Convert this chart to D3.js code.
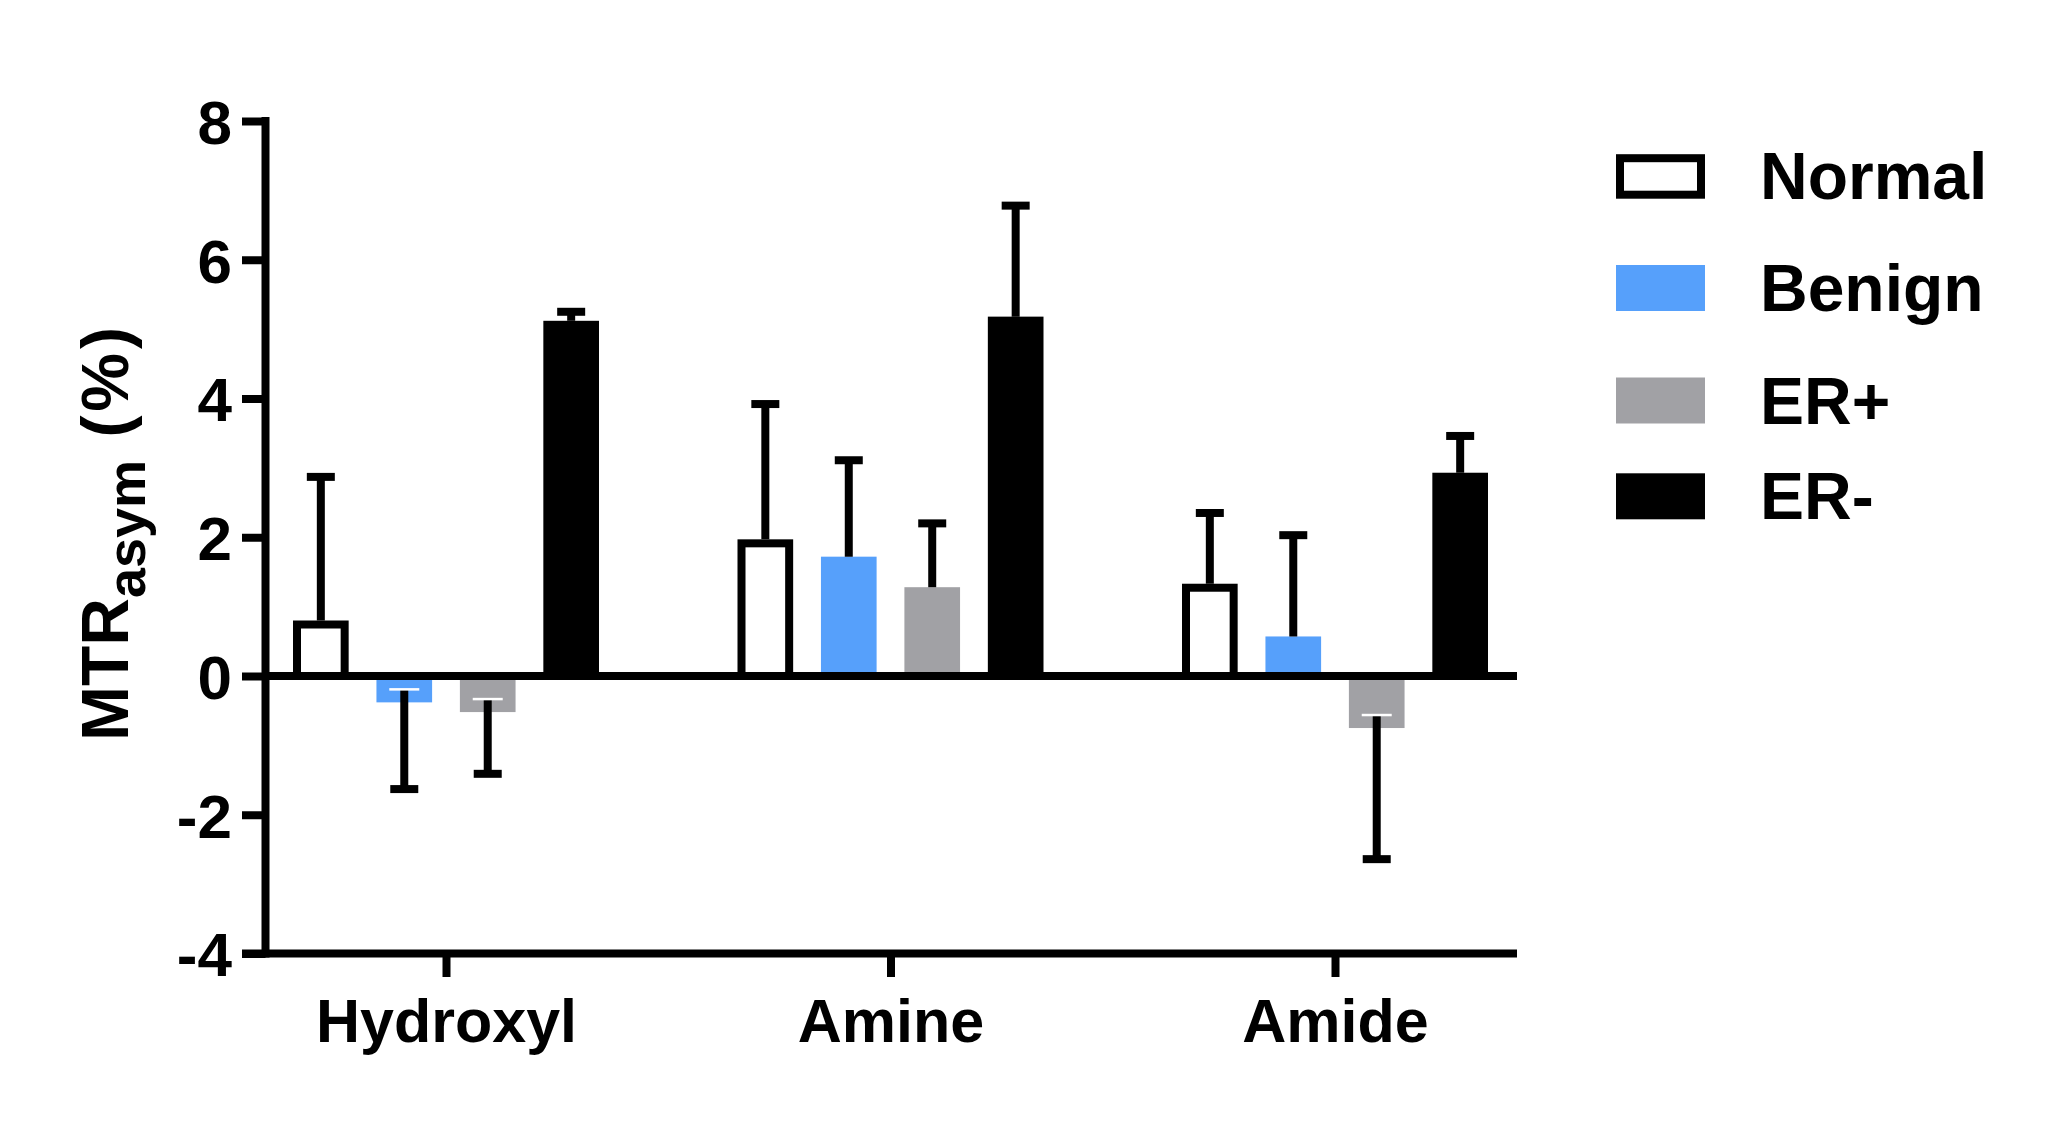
<!DOCTYPE html>
<html>
<head>
<meta charset="utf-8">
<script src="https://cdn.jsdelivr.net/npm/d3@7"></script>
<style>
  body { margin: 0; background: #fff; }
  text { font-family: "Liberation Sans", Arial, Helvetica, sans-serif; font-weight: bold; fill: #000; }
</style>
</head>
<body>
<div id="chart"></div>
<script>
// Data
const categories = ["Hydroxyl", "Amine", "Amide"];
const series = ["Normal", "Benign", "ER+", "ER-"];
const normalMean = [0.80, 1.97, 1.33];
const benignMean = [-0.38, 1.72, 0.57];
const erPosMean = [-0.52, 1.28, -0.75];
const erNegMean = [5.12, 5.18, 2.93];
const normalErr = [2.07, 1.95, 1.02];
const benignErr = [1.25, 1.39, 1.46];
const erPosErr = [0.89, 0.92, 1.89];
const erNegErr = [0.13, 1.60, 0.53];
const yTicks = [-4, -2, 0, 2, 4, 6, 8];

const means = [normalMean, benignMean, erPosMean, erNegMean];
const errs = [normalErr, benignErr, erPosErr, erNegErr];
const colors = ["#ffffff", "#56a0fb", "#a1a1a5", "#000000"];

// Layout
const W = 2052, H = 1128;
const axisX = 265.5, axisRight = 1517;
const sw = 8; // line weight used everywhere

const svg = d3.select("#chart").append("svg")
  .attr("width", W).attr("height", H);

const y = d3.scaleLinear().domain([-4, 8]).range([953.5, 121]);
const x = d3.scalePoint().domain(categories).range([446, 1335]);
const xInner = d3.scaleBand().domain(series).range([-153, 153]).paddingInner(0.333);
const bw = xInner.bandwidth();

const rows = [];
categories.forEach((c, ci) => {
  series.forEach((s, si) => {
    rows.push({ cat: c, s, si, v: means[si][ci], e: errs[si][ci] });
  });
});

// Bars (the open Normal bar keeps its outline inside the band)
const bars = svg.append("g");
bars.selectAll("rect")
  .data(rows)
  .join("rect")
  .attr("x", d => x(d.cat) + xInner(d.s) + (d.si === 0 ? sw / 2 : 0))
  .attr("width", d => bw - (d.si === 0 ? sw : 0))
  .attr("y", d => (d.v >= 0 ? y(d.v) : y(0)) + (d.si === 0 ? sw / 2 : 0))
  .attr("height", d => Math.abs(y(d.v) - y(0)) - (d.si === 0 ? sw / 2 : 0))
  .attr("fill", d => colors[d.si])
  .attr("stroke", d => d.si === 0 ? "#000" : "none")
  .attr("stroke-width", sw);

// Error bars (one-sided, away from zero)
const err = svg.append("g");
rows.forEach(d => {
  const cx = x(d.cat) + xInner(d.s) + bw / 2;
  const end = d.v >= 0 ? d.v + d.e : d.v - d.e;
  const startPx = d.v >= 0 ? y(d.v) : y(d.v) - 13;
  err.append("line")
    .attr("x1", cx).attr("x2", cx)
    .attr("y1", startPx).attr("y2", y(end))
    .attr("stroke", "#000").attr("stroke-width", sw);
  err.append("line")
    .attr("x1", cx - 14).attr("x2", cx + 14)
    .attr("y1", y(end)).attr("y2", y(end))
    .attr("stroke", "#000").attr("stroke-width", sw);
  if (d.v < 0) {
    err.append("line")
      .attr("x1", cx - 15).attr("x2", cx + 15)
      .attr("y1", startPx).attr("y2", startPx)
      .attr("stroke", "#fff").attr("stroke-width", 2.5);
  }
});

// Zero line
svg.append("line")
  .attr("x1", axisX).attr("x2", axisRight)
  .attr("y1", y(0)).attr("y2", y(0))
  .attr("stroke", "#000").attr("stroke-width", sw);

// Y axis
const yAxis = svg.append("g").attr("transform", `translate(${axisX},0)`)
  .call(d3.axisLeft(y).tickValues(yTicks).tickSize(23.5).tickPadding(10).tickFormat(d3.format("d")));
yAxis.select(".domain").remove();
yAxis.selectAll(".tick line").attr("stroke", "#000").attr("stroke-width", sw);
yAxis.selectAll(".tick text")
  .attr("font-size", 62).attr("dy", "0.36em").attr("x", -33.5)
  .text(d => d < 0 ? "-" + Math.abs(d) : d);
yAxis.append("line")
  .attr("x1", 0).attr("x2", 0)
  .attr("y1", y(8) - sw / 2).attr("y2", y(-4) + sw / 2)
  .attr("stroke", "#000").attr("stroke-width", sw);

// X axis
const xAxis = svg.append("g").attr("transform", `translate(0,${y(-4)})`)
  .call(d3.axisBottom(x).tickSize(23.5).tickPadding(0));
xAxis.select(".domain").remove();
xAxis.selectAll(".tick line").attr("stroke", "#000").attr("stroke-width", sw);
xAxis.selectAll(".tick text").attr("font-size", 61).attr("dy", 0).attr("y", 88);
xAxis.append("line")
  .attr("x1", axisX - 23.5).attr("x2", axisRight)
  .attr("y1", 0).attr("y2", 0)
  .attr("stroke", "#000").attr("stroke-width", sw);

// Y title
const title = svg.append("text")
  .attr("transform", "translate(128,532) rotate(-90)")
  .attr("text-anchor", "middle")
  .attr("font-size", 66);
title.append("tspan").text("MTR");
title.append("tspan").attr("font-size", 54).attr("dy", 17).text("asym");
title.append("tspan").attr("dy", -17).attr("letter-spacing", 4).text(" (%)");

// Legend
const legendY = [198.7, 311, 423.5, 519.3];
const legend = svg.append("g");
series.forEach((s, i) => {
  const g = legend.append("g").attr("transform", `translate(1616,${legendY[i]})`);
  if (i === 0) {
    g.append("rect").attr("x", sw / 2).attr("y", -44.5 + sw / 2)
      .attr("width", 89 - sw).attr("height", 44.5 - sw)
      .attr("fill", "#fff").attr("stroke", "#000").attr("stroke-width", sw);
  } else {
    g.append("rect").attr("x", 0).attr("y", -46)
      .attr("width", 89).attr("height", 46).attr("fill", colors[i]);
  }
  g.append("text").attr("x", 144).attr("y", 0).attr("font-size", 66).text(s);
});
</script>
</body>
</html>
